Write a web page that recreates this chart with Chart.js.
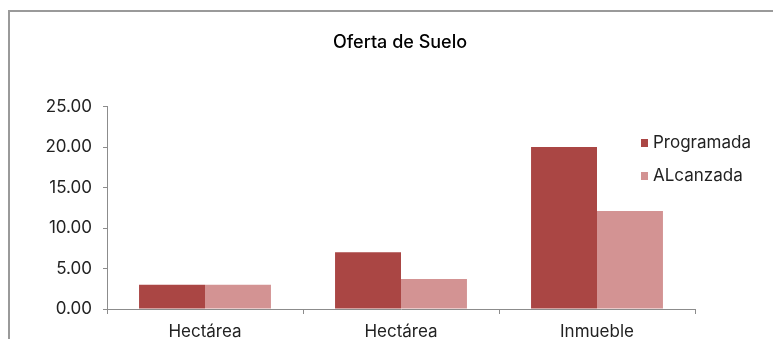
<!DOCTYPE html>
<html>
<head>
<meta charset="utf-8">
<script src="https://cdn.jsdelivr.net/npm/chart.js@4"></script>
<style>
    body { margin: 0; width: 773px; height: 339px; overflow: hidden; background: #fff; font-family: Inter, sans-serif; }
    #frame { position: absolute; left: 8px; top: 10px; width: 900px; height: 500px; border: 2px solid #9a9a9a; box-sizing: border-box; }
    #wrap { position: absolute; left: 0; top: 0; width: 800px; height: 360px; }
    #legend { position: absolute; left: 641px; top: 132px; font-size: 17px; color: #222; }
    #legend div { height: 33px; line-height: 20px; white-space: nowrap; }
    #legend span.box { display: inline-block; width: 7px; height: 8px; margin-right: 5px; vertical-align: 1px; }
</style>
</head>
<body>
<div id="frame"></div>
<div id="wrap"><canvas id="chart" width="800" height="360"></canvas></div>
<div id="legend"></div>
<script>
const categories = ['Hectárea', 'Hectárea', 'Inmueble'];
const seriesNames = ['Programada', 'ALcanzada'];
const programada = [3.0, 7.0, 20.0];
const alcanzada = [3.0, 3.7, 12.1];
const colors = ['#AA4644', '#D39393'];
const axisColor = '#8c8c8c';
const textColor = '#222222';

// legend kept outside the canvas so it can sit over the plot area like the original
const legendDiv = document.getElementById('legend');
seriesNames.forEach((name, i) => {
    legendDiv.innerHTML += `<div><span class="box" style="background:${colors[i]}"></span>${name}</div>`;
});

const ctx = document.getElementById('chart').getContext('2d');
new Chart(ctx, {
    type: 'bar',
    data: {
        labels: categories,
        datasets: [
            { label: seriesNames[0], data: programada, backgroundColor: colors[0] },
            { label: seriesNames[1], data: alcanzada, backgroundColor: colors[1] }
        ]
    },
    options: {
        responsive: false,
        animation: false,
        datasets: { bar: { categoryPercentage: 0.673, barPercentage: 1.0 } },
        layout: { padding: { top: 32, right: 0, left: 0, bottom: 0 } },
        plugins: {
            legend: { display: false },
            tooltip: { enabled: false },
            title: {
                display: true,
                text: 'Oferta de Suelo',
                color: '#000',
                font: { family: 'Inter', size: 18, weight: '500' },
                padding: { top: 0, bottom: 53 }
            }
        },
        scales: {
            x: {
                grid: { offset: true, drawOnChartArea: false, drawTicks: true, tickLength: 5, color: axisColor },
                border: { display: true, color: axisColor },
                ticks: { color: textColor, padding: 8, font: { family: 'Inter', size: 17 } },
                afterFit: (scale) => { scale.height = 51; }
            },
            y: {
                min: 0,
                max: 25,
                grid: { drawOnChartArea: false, drawTicks: true, tickLength: 4, color: axisColor },
                border: { display: true, color: axisColor },
                ticks: {
                    stepSize: 5,
                    color: textColor,
                    padding: 11,
                    font: { family: 'Inter', size: 17 },
                    callback: (v) => Number(v).toFixed(2)
                },
                afterFit: (scale) => { scale.width = 107; }
            },
            // empty right axis only reserves the space on the right, so the title stays centred on the frame
            yRight: {
                position: 'right',
                min: 0,
                max: 25,
                grid: { display: false },
                border: { display: false },
                ticks: { display: false },
                afterFit: (scale) => { scale.width = 105; }
            }
        }
    }
});
</script>
</body>
</html>
